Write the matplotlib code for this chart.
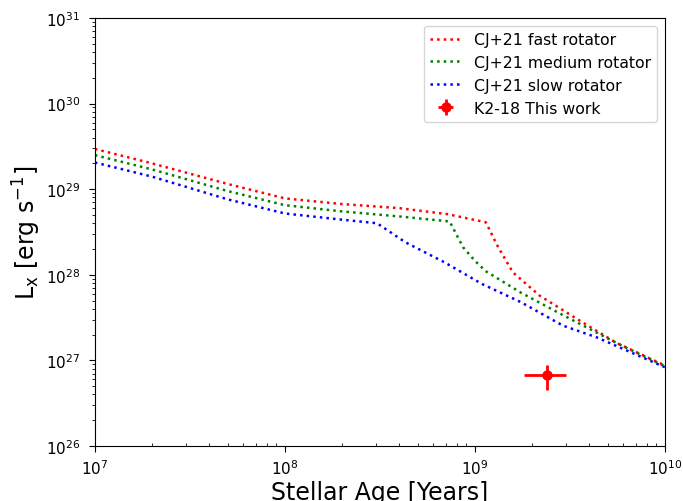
import numpy as np
import matplotlib
matplotlib.use("Agg")
import matplotlib.pyplot as plt

# CJ+21 tracks (age in years, Lx in erg/s)
age_fast = [1.0e7, 2.0e7, 5.0e7, 1.0e8, 2.0e8, 4.0e8, 7.2e8, 1.14e9, 1.31e9, 1.58e9,
            2.19e9, 3.48e9, 5.55e9, 1.0e10]
lx_fast = [2.95e29, 2.0e29, 1.15e29, 7.8e28, 6.7e28, 6.0e28, 5.1e28, 4.1e28, 2.2e28, 1.07e28,
           5.7e27, 3.0e27, 1.6e27, 8.7e26]

age_medium = [1.0e7, 2.0e7, 5.0e7, 1.0e8, 2.0e8, 4.0e8, 7.35e8, 8.65e8, 1.0e9, 1.14e9, 1.74e9,
              2.75e9, 5.55e9, 1.0e10]
lx_medium = [2.5e29, 1.7e29, 9.5e28, 6.5e28, 5.5e28, 4.8e28, 4.2e28, 2.1e28, 1.45e28, 1.1e28, 6.2e27,
             3.6e27, 1.6e27, 8.5e26]

age_slow = [1.0e7, 2.0e7, 5.0e7, 1.0e8, 2.0e8, 3.05e8, 4.3e8, 6.9e8, 1.09e9, 1.74e9,
            2.9e9, 4.39e9, 1.0e10]
lx_slow = [2.05e29, 1.4e29, 7.6e28, 5.2e28, 4.4e28, 4.0e28, 2.4e28, 1.4e28, 7.8e27, 4.8e27,
           2.55e27, 1.85e27, 8.3e26]

# K2-18 measurement
k2_age = 2.4e9
k2_age_err = [[0.6e9], [0.6e9]]
k2_lx = 6.7e26
k2_lx_err = [[2.2e26], [2.1e26]]

fig = plt.figure(figsize=(6.83, 5.02), dpi=100)
ax = fig.add_axes([0.139, 0.1096, 0.8347, 0.8526])

ax.plot(age_fast, lx_fast, ':', color='red', lw=1.8, label='CJ+21 fast rotator')
ax.plot(age_medium, lx_medium, ':', color='green', lw=1.8, label='CJ+21 medium rotator')
ax.plot(age_slow, lx_slow, ':', color='blue', lw=1.8, label='CJ+21 slow rotator')
ax.errorbar(k2_age, k2_lx, xerr=k2_age_err, yerr=k2_lx_err, fmt='o', color='red',
            ms=6.5, elinewidth=2, label='K2-18 This work')

ax.set_xscale('log')
ax.set_yscale('log')
ax.set_xlim(1e7, 1e10)
ax.set_ylim(1e26, 1e31)

ax.set_xlabel('Stellar Age [Years]', fontsize=17, labelpad=2)
ax.set_ylabel(r'L$_\mathrm{x}$ [erg s$^{-1}$]', fontsize=17, labelpad=2)

ax.tick_params(which='major', labelsize=11, length=4.5, pad=4.5)
ax.tick_params(axis='y', which='major', pad=6)
ax.tick_params(which='minor', length=2.5)
ax.tick_params(axis='x', which='minor', direction='in')

ax.legend(loc='upper right', fontsize=11.3)

fig.savefig('out.png', dpi=100)
